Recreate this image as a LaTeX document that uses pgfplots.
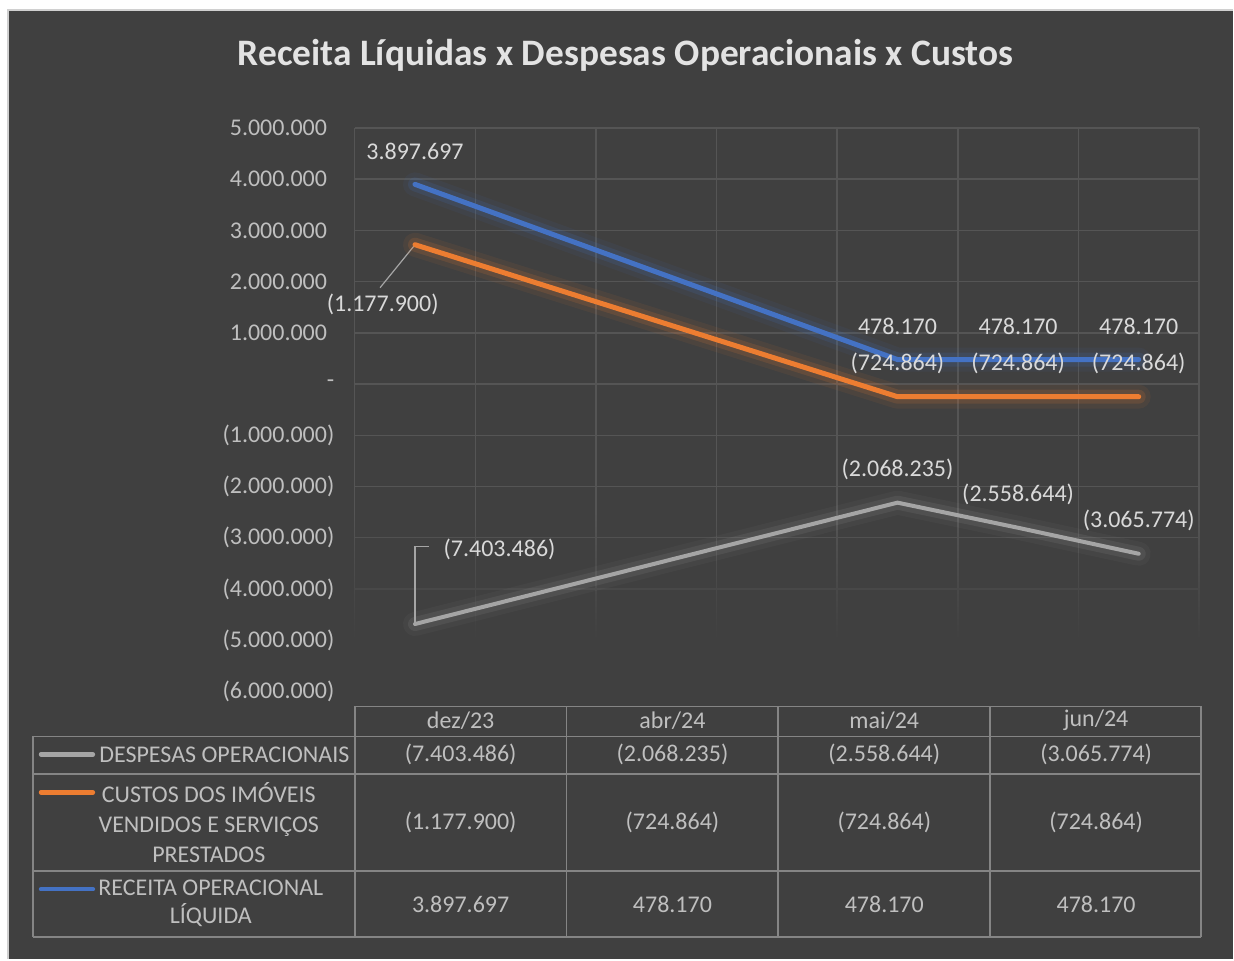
\documentclass[border=0pt]{standalone}
\usepackage{pgfplots}
\pgfplotsset{compat=1.18}
\usetikzlibrary{fadings}
\usepackage{fontspec}
\setmainfont{Carlito}
\definecolor{bg}{HTML}{404040}
\definecolor{gridc}{HTML}{555555}
\definecolor{txt}{HTML}{BFBFBF}
\definecolor{lbl}{HTML}{D9D9D9}
\definecolor{ttl}{HTML}{E3E3E3}
\definecolor{blueE}{HTML}{4472C4}
\definecolor{orangeE}{HTML}{ED7D31}
\definecolor{grayE}{HTML}{A5A5A5}
\definecolor{tabc}{HTML}{858585}
\definecolor{edge}{HTML}{D0D0D0}
\tikzfading[name=gridfade, top color=transparent!100, bottom color=transparent!0]
\begin{document}
\begin{tikzpicture}
\begin{scope}[x=0.5pt,y=-0.5pt]
\fill[white] (0,0) rectangle (1234,960);
\fill[bg] (8,10) rectangle (1234,960);
\draw[edge, line width=1pt] (8,960) -- (8,10) -- (1234,10);
\node[font=\fontsize{18.7}{22}\selectfont\bfseries, text=ttl] at (626,55) {Receita Líquidas x Despesas Operacionais x Custos};
% grid (drawn under the axis)
\foreach \k in {0,...,11} \draw[gridc, line width=0.75pt] (355,128+\k*51.2727) -- (1200,128+\k*51.2727);
\foreach \k in {0,...,7} \draw[gridc, line width=0.75pt] (355+\k*120.714,128) -- (355+\k*120.714,692);
\fill[bg, path fading=gridfade] (353,515) rectangle (1202,643);
\fill[bg] (353,642) rectangle (1202,695);
\end{scope}
\begin{axis}[
  at={(177.5pt,-346pt)}, anchor=south west,
  scale only axis, width=422.5pt, height=282pt,
  xmin=-0.5, xmax=6.5, ymin=-6000000, ymax=5000000,
  stack plots=y,
  axis line style={draw=none}, tick style={draw=none},
  xtick={-0.5,0.5,1.5,2.5,3.5,4.5,5.5,6.5}, xticklabels={},
  ytick={-6000000,-5000000,-4000000,-3000000,-2000000,-1000000,0,1000000,2000000,3000000,4000000,5000000},
  yticklabels={{(6.000.000)},{(5.000.000)},{(4.000.000)},{(3.000.000)},{(2.000.000)},{(1.000.000)},{-\hspace{8pt}},{1.000.000\hphantom{)}},{2.000.000\hphantom{)}},{3.000.000\hphantom{)}},{4.000.000\hphantom{)}},{5.000.000\hphantom{)}}},
  yticklabel style={anchor=east, inner sep=0pt, xshift=-10pt, text=txt, font=\fontsize{12}{14}\selectfont},
  scaled y ticks=false,
  clip=false,
  point meta=explicit symbolic,
  nodes near coords,
  every node near coord/.append style={anchor=center, yshift=16.5pt, font=\fontsize{12}{14}\selectfont, text=lbl},
]
\addplot[blueE, line width=2.5pt, line cap=round, line join=round,
  preaction={draw=blueE, line width=12pt, opacity=0.07},
  preaction={draw=blueE, line width=7pt, opacity=0.15}]
  table[x=x, y=y, meta=lab, row sep=\\] {
  x y lab \\
  0 3897697 3.897.697 \\
  4 478170 478.170 \\
  5 478170 478.170 \\
  6 478170 478.170 \\
};
\addplot[orangeE, line width=2.5pt, line cap=round, line join=round,
  preaction={draw=orangeE, line width=12pt, opacity=0.07},
  preaction={draw=orangeE, line width=7pt, opacity=0.15}]
  table[x=x, y=y, meta=lab, row sep=\\] {
  x y lab \\
  0 -1177900 {} \\
  4 -724864 (724.864) \\
  5 -724864 (724.864) \\
  6 -724864 (724.864) \\
};
\addplot[grayE, line width=2pt, line cap=round, line join=round,
  preaction={draw=grayE, line width=12pt, opacity=0.06},
  preaction={draw=grayE, line width=7pt, opacity=0.12}]
  table[x=x, y=y, meta=lab, row sep=\\] {
  x y lab \\
  0 -7403486 {} \\
  4 -2068235 (2.068.235) \\
  5 -2558644 (2.558.644) \\
  6 -3065774 (3.065.774) \\
};
\draw[grayE, line width=0.6pt] (axis cs:0,2719797) -- (axis cs:-0.29,1880000);
\node[font=\fontsize{12}{14}\selectfont, text=lbl] at (axis cs:-0.268,1549000) {(1.177.900)};
\draw[grayE, line width=0.6pt] (axis cs:0,-4683689) -- (axis cs:0,-3170000) -- (axis cs:0.12,-3170000);
\node[font=\fontsize{12}{14}\selectfont, text=lbl] at (axis cs:0.701,-3230000) {(7.403.486)};
\end{axis}
\begin{scope}[x=0.5pt,y=-0.5pt]
\begin{scope}[tabc, line width=0.9pt]
\draw (355,707) -- (1202,707);
\draw (33,737) -- (1202,737);
\draw (33,775) -- (1202,775);
\draw (33,872) -- (1202,872);
\draw (33,938) -- (1202,938);
\draw (33,737) -- (33,938);
\foreach \xx in {355,567,779,991,1202} \draw (\xx,707) -- (\xx,938);
\end{scope}
\begin{scope}[font=\fontsize{12}{14}\selectfont, text=txt]
\node at (461,721) {dez/23};
\node at (673,721) {abr/24};
\node at (885,721) {mai/24};
\node at (1097,721) {jun/24};
\node at (461,755) {(7.403.486)};
\node at (673,755) {(2.068.235)};
\node at (885,755) {(2.558.644)};
\node at (1097,755) {(3.065.774)};
\node at (461,823) {(1.177.900)};
\node at (673,823) {(724.864)};
\node at (885,823) {(724.864)};
\node at (1097,823) {(724.864)};
\node at (461,905) {3.897.697};
\node at (673,905) {478.170};
\node at (885,905) {478.170};
\node at (1097,905) {478.170};
\node[anchor=west, inner sep=0pt] at (99,755) {DESPESAS OPERACIONAIS};
\node[align=center, inner sep=0pt, font=\fontsize{12}{15}\selectfont] at (209,823) {CUSTOS DOS IMÓVEIS\\VENDIDOS E SERVIÇOS\\PRESTADOS};
\node[align=center, inner sep=0pt, font=\fontsize{12}{14}\selectfont] at (211,904) {RECEITA OPERACIONAL\\LÍQUIDA};
\end{scope}
\draw[grayE, line width=2.2pt, line cap=round] (41,755) -- (93,755);
\draw[orangeE, line width=2.2pt, line cap=round] (41,793) -- (93,793);
\draw[blueE, line width=2.2pt, line cap=round] (41,890) -- (93,890);
\end{scope}
\end{tikzpicture}
\end{document}
